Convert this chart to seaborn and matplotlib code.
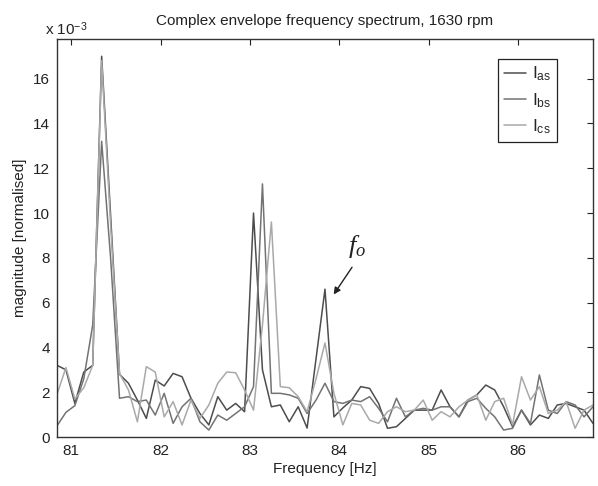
import numpy as np
import pandas as pd
import matplotlib
matplotlib.use("Agg")
import matplotlib.pyplot as plt
import seaborn as sns

# ---- data (magnitude in units of 1e-3) ----
freq = [80.84, 80.94, 81.04, 81.14, 81.24, 81.34, 81.44, 81.54, 81.64, 81.74,
        81.84, 81.94, 82.04, 82.14, 82.24, 82.34, 82.44, 82.54, 82.64, 82.74,
        82.84, 82.94, 83.04, 83.14, 83.24, 83.34, 83.44, 83.54, 83.64, 83.74,
        83.84, 83.94, 84.04, 84.14, 84.24, 84.34, 84.44, 84.54, 84.64, 84.74,
        84.84, 84.94, 85.04, 85.14, 85.24, 85.34, 85.44, 85.54, 85.64, 85.74,
        85.84, 85.94, 86.04, 86.14, 86.24, 86.34, 86.44, 86.54, 86.64, 86.74,
        86.84]

i_as = [3.2, 3.0, 1.5, 2.9, 3.2, 17.0, 9.9, 2.8, 2.4, 1.65,
        0.83, 2.54, 2.28, 2.84, 2.69, 1.73, 1.05, 0.54, 1.80, 1.20,
        1.50, 1.13, 10.0, 3.0, 1.35, 1.43, 0.68, 1.35, 0.40, 3.5,
        6.6, 0.90, 1.30, 1.65, 2.25, 2.17, 1.50, 0.39, 0.46, 0.83,
        1.20, 1.20, 1.20, 2.10, 1.35, 0.90, 1.65, 1.88, 2.32, 2.10,
        1.35, 0.46, 1.20, 0.54, 0.98, 0.83, 1.43, 1.50, 1.35, 1.20,
        0.61]

i_bs = [0.5, 1.1, 1.4, 2.6, 5.0, 13.2, 8.0, 1.73, 1.80, 1.58,
        1.65, 0.98, 1.95, 0.61, 1.35, 1.73, 0.68, 0.31, 0.98, 0.75,
        1.05, 1.35, 2.25, 11.3, 1.95, 1.95, 1.88, 1.73, 1.05, 1.65,
        2.4, 1.58, 1.50, 1.65, 1.58, 1.80, 1.28, 0.68, 1.73, 0.90,
        1.20, 1.28, 1.20, 1.35, 1.35, 0.90, 1.58, 1.73, 1.28, 0.90,
        0.31, 0.39, 1.20, 0.61, 2.77, 1.20, 1.05, 1.58, 1.43, 0.90,
        1.35]

i_cs = [1.9, 3.1, 1.7, 2.2, 3.2, 16.8, 9.5, 2.84, 2.1, 0.68,
        3.14, 2.9, 0.90, 1.58, 0.54, 1.65, 0.83, 1.43, 2.4, 2.9,
        2.87, 2.1, 1.2, 5.0, 9.6, 2.25, 2.2, 1.8, 1.13, 2.6,
        4.2, 1.95, 0.54, 1.50, 1.43, 0.75, 0.61, 1.13, 1.35, 1.13,
        1.20, 1.65, 0.75, 1.13, 0.90, 1.35, 1.65, 1.88, 0.75, 1.58,
        1.73, 0.54, 2.69, 1.65, 2.25, 1.05, 1.20, 1.58, 0.39, 1.20,
        1.43]

series_names = ["I$_{\\mathrm{as}}$", "I$_{\\mathrm{bs}}$", "I$_{\\mathrm{cs}}$"]
colors = ["#4d4d4d", "#737373", "#a9a9a9"]
x_ticks = [81, 82, 83, 84, 85, 86]
y_ticks = [0, 2, 4, 6, 8, 10, 12, 14, 16]

df = pd.concat([
    pd.DataFrame({"freq": freq, "mag": vals, "series": name})
    for name, vals in zip(series_names, [i_as, i_bs, i_cs])
], ignore_index=True)

sns.set_theme(style="white")
plt.rcParams["font.family"] = ["Liberation Sans", "DejaVu Sans"]
plt.rcParams["mathtext.fontset"] = "custom"
plt.rcParams["mathtext.rm"] = "Liberation Sans"
plt.rcParams["mathtext.it"] = "Liberation Serif:italic"
plt.rcParams["xtick.direction"] = "in"
plt.rcParams["ytick.direction"] = "in"

fig = plt.figure(figsize=(5.98, 4.86), dpi=100)
ax = fig.add_axes([0.0953, 0.1008, 0.8963, 0.819])

sns.lineplot(data=df, x="freq", y="mag", hue="series", palette=colors,
             linewidth=1.1, ax=ax, legend=False, sort=False, estimator=None)

ax.set_xlim(80.84, 86.84)
ax.set_ylim(0, 17.77)
ax.set_xticks(x_ticks)
ax.set_xticklabels([str(t) for t in x_ticks])
ax.set_yticks(y_ticks)
ax.set_yticklabels([str(t) for t in y_ticks])
ax.tick_params(axis="both", which="both", direction="in", length=4, width=0.8,
               top=True, right=True, labelsize=11, colors="#222222", pad=5)
for sp in ax.spines.values():
    sp.set_color("#333333")
    sp.set_linewidth(1.0)

ax.set_xlabel("Frequency [Hz]", fontsize=11, color="#222222", labelpad=3)
ax.set_ylabel("magnitude [normalised]", fontsize=11, color="#222222", labelpad=4)
ax.set_title("Complex envelope frequency spectrum, 1630 rpm", fontsize=11,
             color="#222222", pad=10)
ax.text(-0.022, 1.003, "x 10$^{-3}$", transform=ax.transAxes, fontsize=11,
        ha="left", va="bottom", color="#222222")

handles = [plt.Line2D([], [], color=c, linewidth=1.1) for c in colors]
leg = ax.legend(handles, series_names, loc="upper right",
                bbox_to_anchor=(0.933, 0.95), fontsize=12.5, frameon=True,
                fancybox=False, framealpha=1, edgecolor="#222222",
                handlelength=1.3, handletextpad=0.3, borderpad=0.35,
                labelspacing=0.45, borderaxespad=0)
leg.get_frame().set_linewidth(0.9)

ax.annotate("", xy=(83.92, 6.26), xytext=(84.16, 7.68),
            arrowprops=dict(arrowstyle="-|>", color="#222222", lw=1.0,
                            mutation_scale=10))
ax.text(84.2, 8.5, "$f_o$", fontsize=19, ha="center", va="center",
        color="#222222")

fig.savefig("out.png", dpi=100)
